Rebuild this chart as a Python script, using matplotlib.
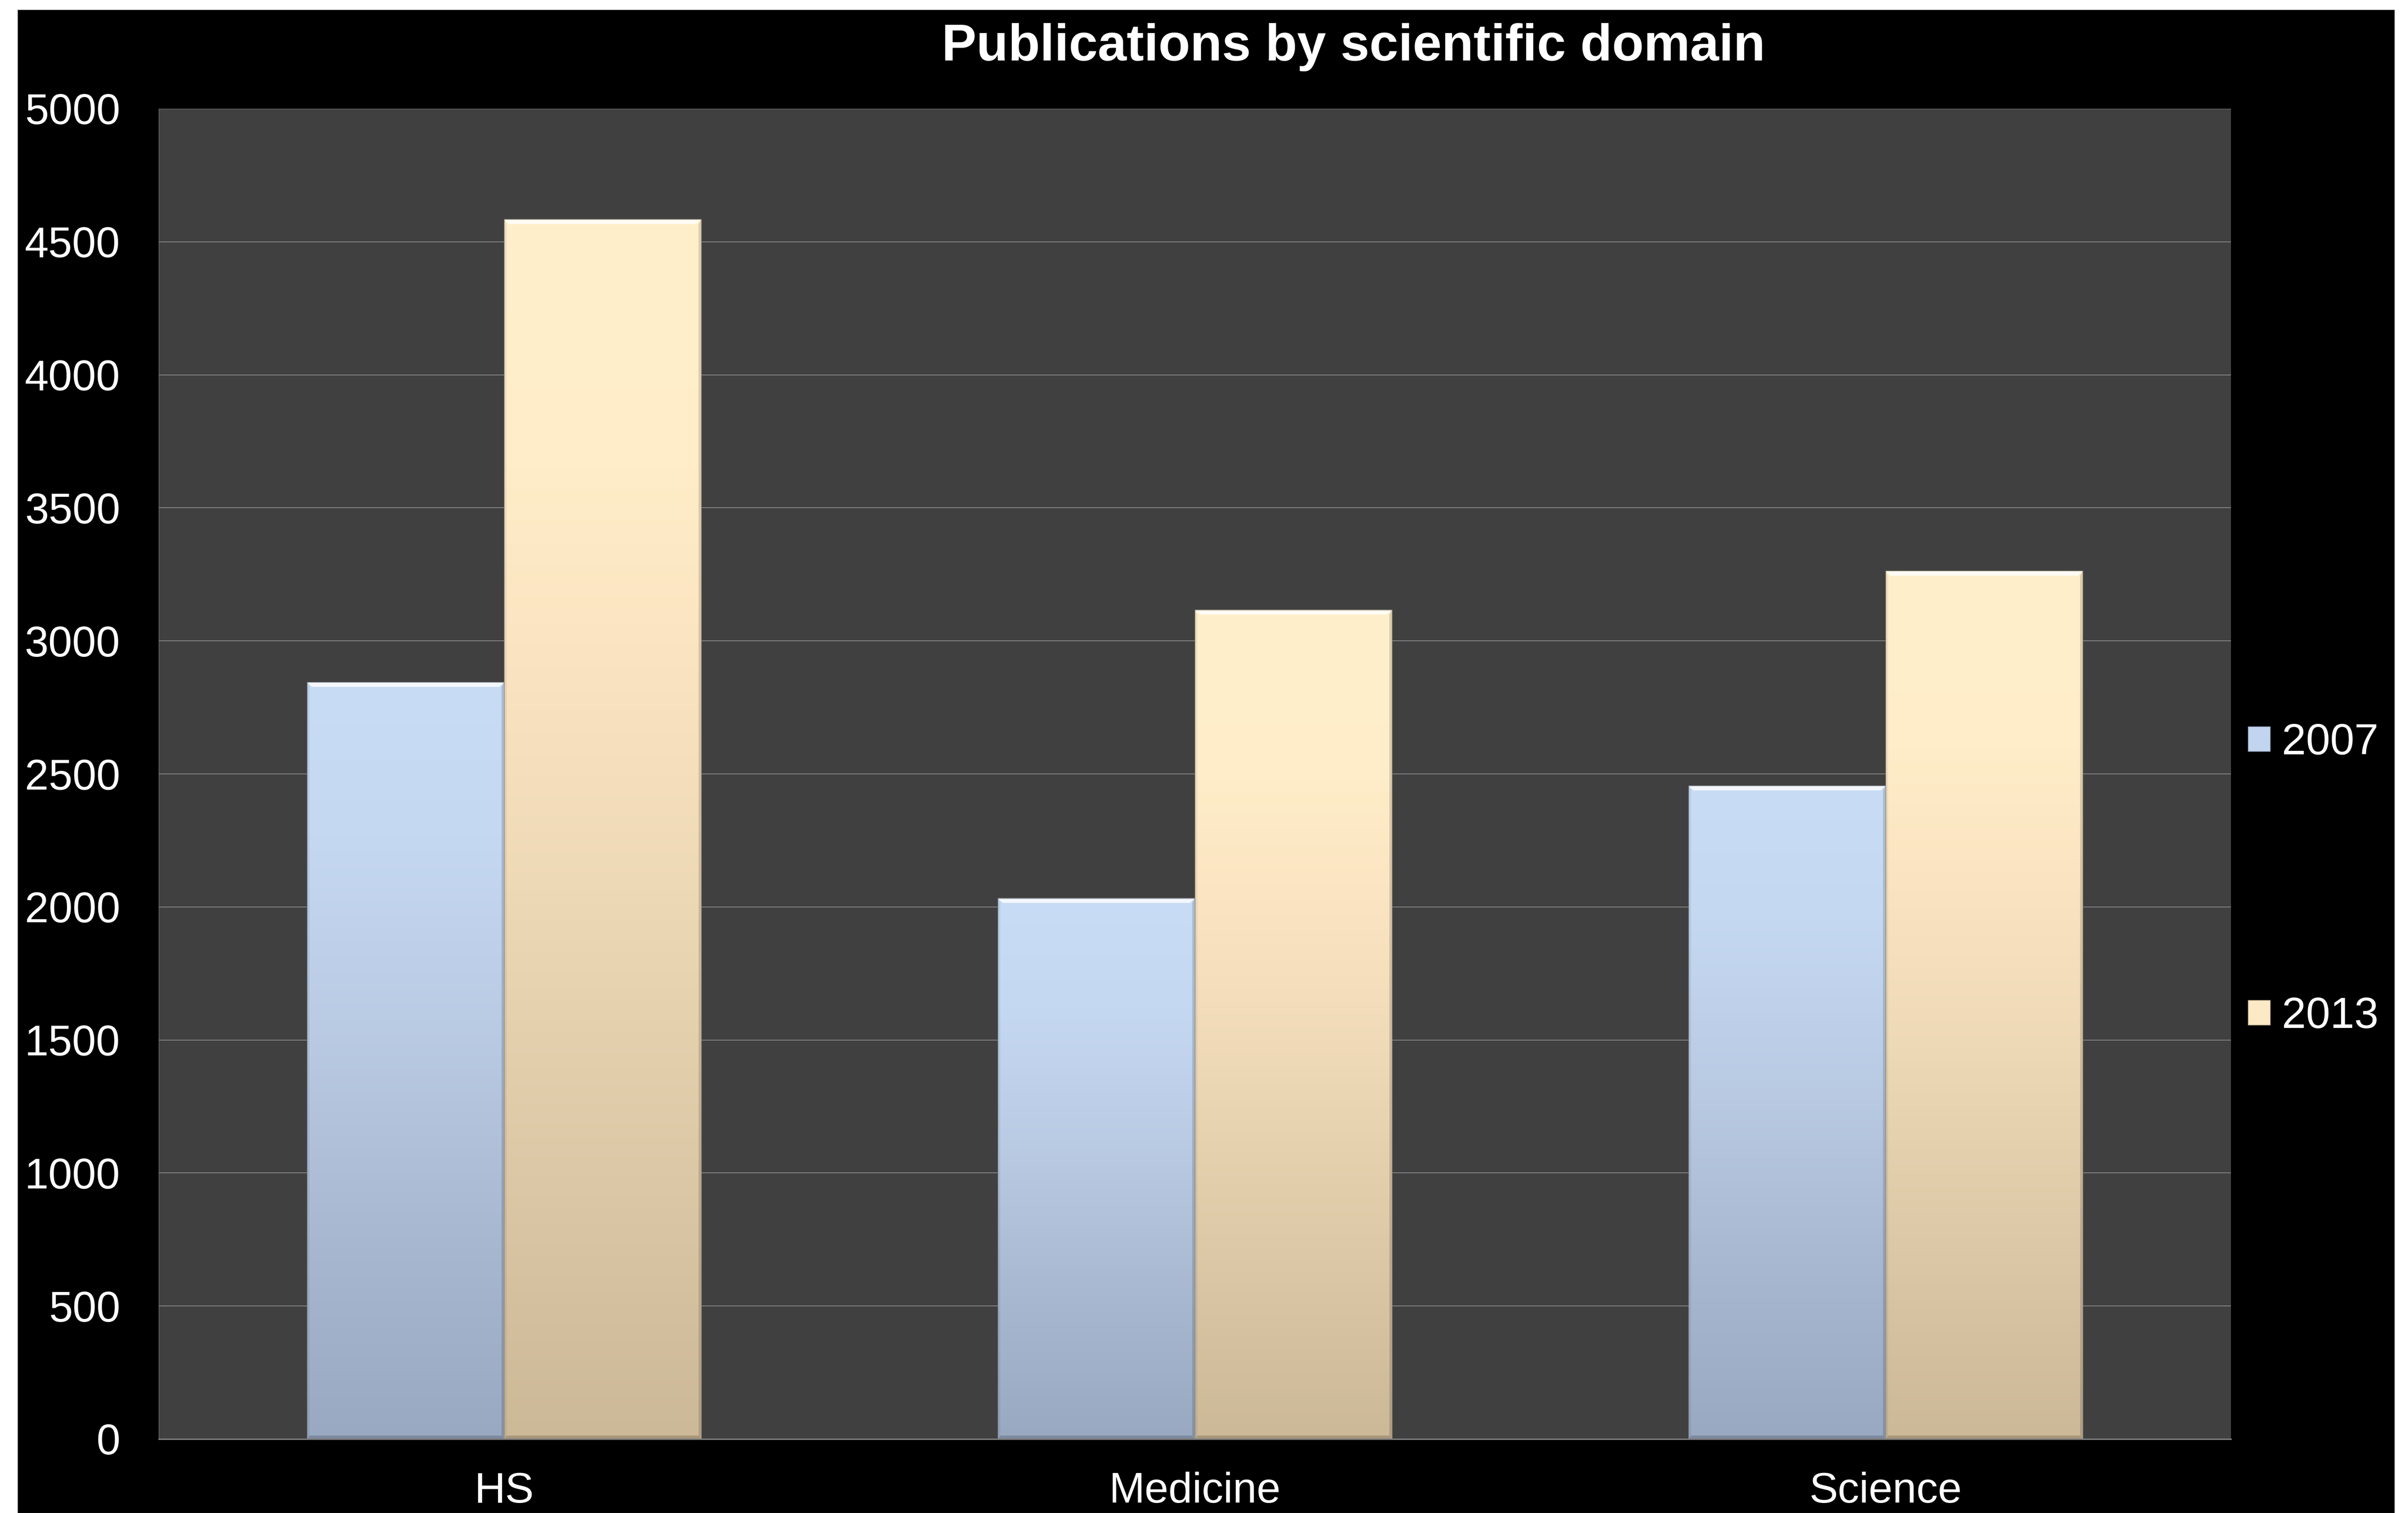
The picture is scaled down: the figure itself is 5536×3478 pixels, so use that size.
import numpy as np
import matplotlib
matplotlib.use('Agg')
import matplotlib.pyplot as plt
from matplotlib.colors import LinearSegmentedColormap
from matplotlib.patches import Rectangle, Polygon, Patch

plt.rcParams['font.family'] = ['Liberation Sans', 'DejaVu Sans']

# publication counts per domain
domains = ['HS', 'Medicine', 'Science']
years = ['2007', '2013']
pubs_2007 = [2845, 2033, 2456]
pubs_2013 = [4585, 3117, 3263]
y_ticks = [0, 500, 1000, 1500, 2000, 2500, 3000, 3500, 4000, 4500, 5000]

W, H = 5536, 3478
fig = plt.figure(figsize=(W / 100, H / 100), dpi=100, facecolor='white')

# black chart area with a thin white margin round it
fig.add_artist(Rectangle((40 / W, 0), (5505 - 40) / W, (H - 22) / H,
                         transform=fig.transFigure, facecolor='black',
                         edgecolor='#bdbdbd', lw=0.8, zorder=-10))

ax = fig.add_axes([365 / W, 1 - 3308 / H, (5129 - 365) / W, (3308 - 250) / H])
ax.set_facecolor('#404040')
ax.set_xlim(-0.5, 2.5)
ax.set_ylim(0, 5000)

blue_cmap = LinearSegmentedColormap.from_list('blue_grad', [
    (0.0, '#C8DCF6'), (0.2, '#C5D8F2'), (0.45, '#BACBE4'),
    (0.75, '#A8B7D0'), (1.0, '#9AA9C2')])
tan_cmap = LinearSegmentedColormap.from_list('tan_grad', [
    (0.0, '#FFF0CB'), (0.2, '#FEEDC8'), (0.33, '#FCE5C2'),
    (0.55, '#EED9B6'), (0.8, '#DBC6A5'), (1.0, '#CCB998')])

x = np.arange(len(domains))
width = 0.2853

bars_2007 = ax.bar(x - width / 2, pubs_2007, width, color='none',
                   edgecolor='#8a8f99', lw=1.0, zorder=4)
bars_2013 = ax.bar(x + width / 2, pubs_2013, width, color='none',
                   edgecolor='#99907f', lw=1.0, zorder=4)

# data units per pixel, for the bevel edges
p0 = ax.transData.transform((0, 0))
p1 = ax.transData.transform((1, 1000))
ux = 1.0 / (p1[0] - p0[0])
uy = 1000.0 / (p1[1] - p0[1])


def shade_bar(rect, cmap):
    x0 = rect.get_x()
    w = rect.get_width()
    h = rect.get_height()
    x1 = x0 + w
    grad = np.linspace(0, 1, 256).reshape(-1, 1)
    im = ax.imshow(grad, cmap=cmap, extent=(x0, x1, 0, h), aspect='auto',
                   interpolation='bilinear', zorder=2)
    im.set_clip_path(rect)

    tx, ty = 11 * ux, 11 * uy
    sx, sy = 6 * ux, 8 * uy
    ax.add_patch(Polygon([(x0, h), (x1, h), (x1 - tx, h - ty), (x0 + tx, h - ty)],
                         closed=True, facecolor='white', alpha=0.8, lw=0, zorder=3))
    ax.add_patch(Polygon([(x0, 0), (x0 + sx, sy), (x0 + sx, h - ty), (x0, h)],
                         closed=True, facecolor='black', alpha=0.06, lw=0, zorder=3))
    ax.add_patch(Polygon([(x1, 0), (x1, h), (x1 - sx, h - ty), (x1 - sx, sy)],
                         closed=True, facecolor='black', alpha=0.14, lw=0, zorder=3))
    ax.add_patch(Polygon([(x0, 0), (x1, 0), (x1 - sx, sy), (x0 + sx, sy)],
                         closed=True, facecolor='black', alpha=0.18, lw=0, zorder=3))


for rect in bars_2007:
    shade_bar(rect, blue_cmap)
for rect in bars_2013:
    shade_bar(rect, tan_cmap)

ax.set_xlim(-0.5, 2.5)
ax.set_ylim(0, 5000)
ax.set_xticks(x)
ax.set_xticklabels(domains)
ax.set_yticks(y_ticks)

ax.yaxis.grid(True, color='#858585', lw=1.4)
ax.set_axisbelow(True)
for side in ['top', 'right']:
    ax.spines[side].set_visible(False)
ax.spines['left'].set_color('#6f6f6f')
ax.spines['left'].set_linewidth(1.0)
ax.spines['bottom'].set_color('#858585')
ax.spines['bottom'].set_linewidth(2.0)

ax.tick_params(axis='both', length=0, colors='white', labelsize=71)
ax.tick_params(axis='y', pad=64)
ax.tick_params(axis='x', pad=54)

handles = [Patch(facecolor='#C2D5EF', edgecolor='#7d8aa0', lw=1.0),
           Patch(facecolor='#FCE9C6', edgecolor='#a89878', lw=1.0)]
leg = ax.legend(handles, years, loc='upper left',
                bbox_to_anchor=(5168 / W, 1 - 1661 / H),
                bbox_transform=fig.transFigure, frameon=False, fontsize=72,
                handlelength=0.51, handleheight=0.5, handletextpad=0.27,
                labelspacing=5.35, borderpad=0, borderaxespad=0)
for t in leg.get_texts():
    t.set_color('white')

fig.text(3112 / W, 1 - 139 / H, 'Publications by scientific domain',
         ha='center', va='baseline', fontsize=86, fontweight='bold', color='white')

fig.savefig('out.png', dpi=100, facecolor=fig.get_facecolor())
